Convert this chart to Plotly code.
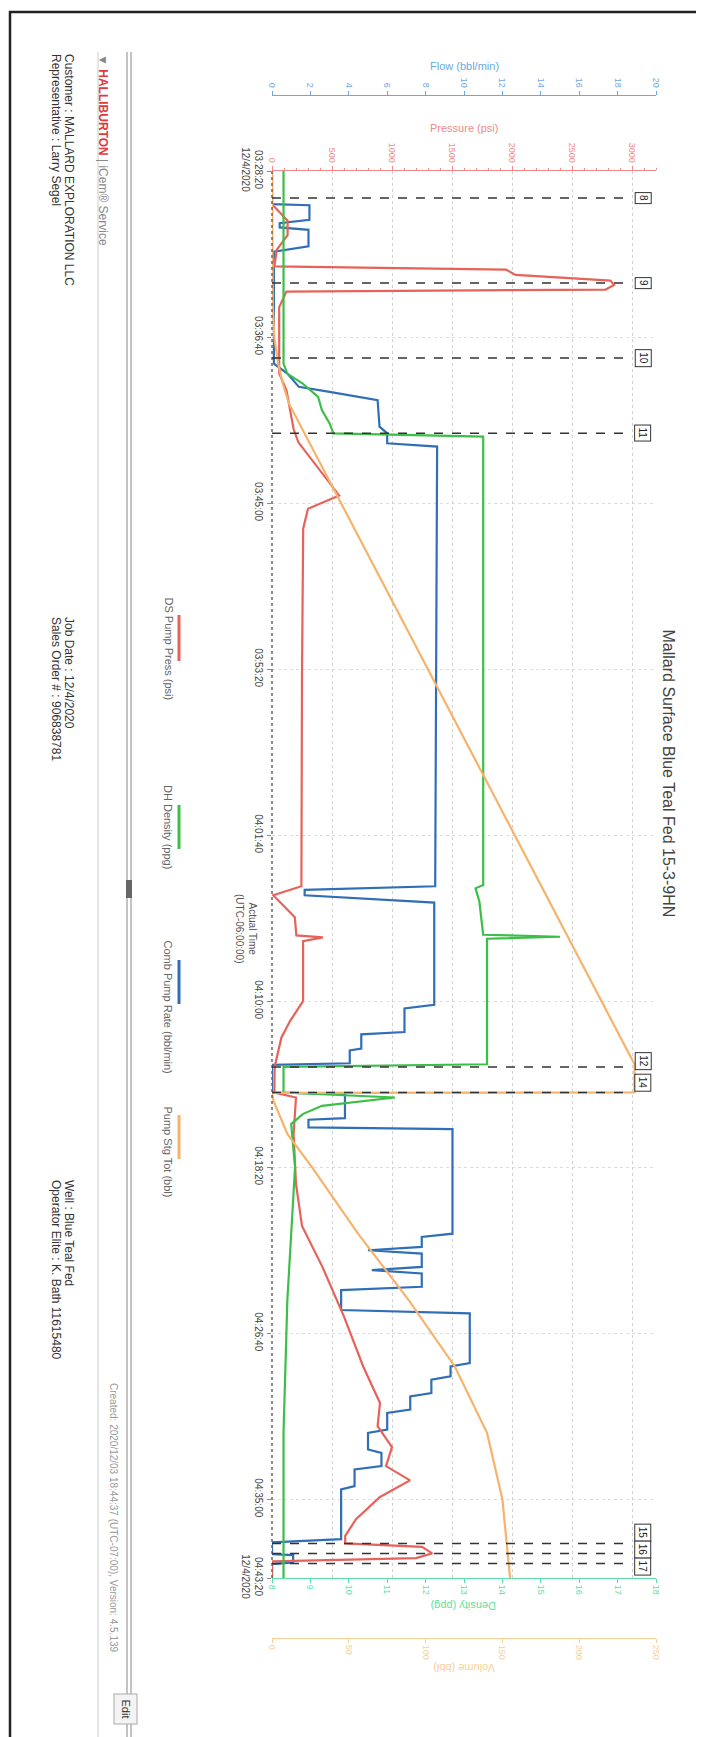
import pandas as pd
import plotly.graph_objects as go

# ---------------- data ----------------
START = "2020-12-04 03:28:20"
END_SEC = 4237

tick_secs = [0, 500, 1000, 1500, 2000, 2500, 3000, 3500, 4000, 4237]
tick_text = ["03:28:20<br>12/4/2020", "03:36:40", "03:45:00", "03:53:20", "04:01:40",
             "04:10:00", "04:18:20", "04:26:40", "04:35:00", "04:43:20<br>12/4/2020"]

# DS Pump Press (psi)
press_s = [0, 100, 150, 193, 237, 287, 297, 313, 330, 343, 357, 363, 410, 610, 660, 777, 817,
           977, 1017, 1077, 1510, 1800, 2154, 2181, 2247, 2302, 2308, 2319, 2500, 2560, 2610,
           2698, 2775, 2790, 2900, 3050, 3177, 3300, 3450, 3600, 3710, 3780, 3843, 3900, 3943,
           3993, 4060, 4110, 4133, 4143, 4163, 4177, 4187, 4237]
press_v = [0, 0, 130, 130, 40, 20, 1950, 2030, 2820, 2850, 2780, 120, 60, 60, 120, 180, 220,
           560, 300, 260, 250, 250, 245, 10, 190, 203, 425, 259, 259, 150, 78,
           22, 20, 200, 180, 200, 250, 420, 600, 760, 900, 880, 1000, 950, 1150,
           900, 700, 610, 610, 1250, 1335, 1200, 0, 0]

# DH Density (ppg)
dens_s = [0, 580, 610, 640, 680, 720, 760, 790, 800, 1500, 2150, 2160, 2200, 2300, 2306, 2312,
          2690, 2698, 2775, 2790, 2800, 2815, 2840, 2870, 3000, 3200, 3400, 3800, 4237]
dens_v = [8.3, 8.3, 8.4, 8.8, 9.2, 9.3, 9.5, 9.6, 13.5, 13.5, 13.5, 13.3, 13.4, 13.5, 15.5, 13.6,
          13.6, 8.3, 8.3, 11.2, 10.5, 9.3, 8.8, 8.5, 8.6, 8.5, 8.4, 8.3, 8.3]

# Comb Pump Rate (bbl/min)
rate_s = [0, 100, 103, 147, 157, 170, 177, 227, 243, 580, 610, 650, 665, 690, 770, 790, 820, 830,
          2154, 2165, 2181, 2203, 2511, 2522, 2593, 2600, 2643, 2648, 2687, 2692, 2775, 2780,
          2852, 2857, 2880, 2885, 3200, 3210, 3240, 3250, 3260, 3300, 3310, 3320, 3360, 3370,
          3430, 3440, 3590, 3600, 3630, 3640, 3680, 3690, 3730, 3740, 3790, 3800, 3850, 3860,
          3900, 3910, 3960, 3970, 4120, 4130, 4165, 4168, 4190, 4195, 4237]
rate_v = [0, 0, 1.95, 1.95, 0.4, 0.4, 1.9, 1.9, 0.1, 0.1, 0.8, 1.4, 3.0, 5.5, 5.6, 6.0, 6.0, 8.6,
          8.5, 1.7, 1.7, 8.45, 8.45, 6.9, 6.9, 4.65, 4.65, 4.05, 4.05, 0, 0, 3.8,
          3.8, 1.9, 1.9, 9.4, 9.4, 7.8, 7.8, 5.0, 7.8, 7.8, 5.2, 7.8, 7.8, 3.6,
          3.6, 10.3, 10.3, 9.3, 9.3, 8.3, 8.3, 7.2, 7.2, 6.0, 6.0, 5.0, 5.0, 5.7,
          5.7, 4.3, 4.3, 3.6, 3.6, 0, 0, 1.1, 1.1, 0, 0]

# Pump Stg Tot (bbl)
vol_s = [0, 400, 500, 580, 640, 700, 2690, 2775, 2776, 2800, 2900, 3000, 3200, 3400, 3600,
         3800, 4000, 4237]
vol_v = [0, 0.5, 1.5, 4, 7, 11, 236, 236, 0, 1, 10, 26, 56, 89, 119, 140, 150, 155]

# job events
event_s = [81, 337, 563, 790, 2698, 2775, 4133, 4163, 4193]
event_lbl = ["8", "9", "10", "11", "12", "14", "15", "16", "17"]
event_shift = [0, 0, 0, 0, 6, 10, 11, 4, -3]

# ---------------- styling ----------------
RED, GREEN, BLUE, ORANGE = "#e6625a", "#3cbf48", "#306fb6", "#f7b26b"
AX_FLOW, AX_PRESS, AX_DENS, AX_VOL = "#6aa9e0", "#f08a8a", "#5de0a5", "#f9cf95"
FONT = "Arial, Liberation Sans, sans-serif"
W, H = 704, 1737
LW = 2.2


def X(px):
    return px / W


def Y(py):
    return 1 - py / H


start = pd.Timestamp(START)


def T(secs):
    return [start + pd.Timedelta(seconds=s) for s in secs]


fig = go.Figure()
fig.add_trace(go.Scatter(x=press_v, y=T(press_s), xaxis="x2", yaxis="y", mode="lines",
                         line=dict(color=RED, width=LW), name="DS Pump Press (psi)"))
fig.add_trace(go.Scatter(x=dens_v, y=T(dens_s), xaxis="x3", yaxis="y", mode="lines",
                         line=dict(color=GREEN, width=LW), name="DH Density (ppg)"))
fig.add_trace(go.Scatter(x=rate_v, y=T(rate_s), xaxis="x", yaxis="y", mode="lines",
                         line=dict(color=BLUE, width=LW), name="Comb Pump Rate (bbl/min)"))
fig.add_trace(go.Scatter(x=vol_v, y=T(vol_s), xaxis="x4", yaxis="y", mode="lines",
                         line=dict(color=ORANGE, width=LW), name="Pump Stg Tot (bbl)"))

xd = [X(264), X(648)]
yd = [Y(1570), Y(163)]


def vax(color, rng, dtick, **kw):
    d = dict(range=rng, dtick=dtick, tickangle=90, ticks="outside", ticklen=4,
             tickcolor=color, linecolor=color, showline=True, linewidth=1,
             tickfont=dict(color=color, size=9, family=FONT), zeroline=False,
             showgrid=False, automargin=False)
    d.update(kw)
    return d


fig.update_layout(
    width=W, height=H, margin=dict(l=0, r=0, t=0, b=0),
    paper_bgcolor="white", plot_bgcolor="white", showlegend=False,
    font=dict(family=FONT, color="#444"),
    xaxis=vax(AX_FLOW, [0, 20], 2, domain=xd, side="top", anchor="free", position=Y(87)),
    xaxis2=vax(AX_PRESS, [0, 3200], 500, overlaying="x", side="top", anchor="y",
               showgrid=True, gridcolor="#d0d0d0", griddash="dot",
               minor=dict(dtick=100, ticks="outside", ticklen=2, tickcolor=AX_PRESS)),
    xaxis3=vax(AX_DENS, [8, 18], 1, overlaying="x", side="bottom", anchor="y"),
    xaxis4=vax(AX_VOL, [0, 250], 50, overlaying="x", side="bottom", anchor="free",
               position=Y(1630)),
    yaxis=dict(domain=yd, type="date", range=[T([END_SEC])[0], T([0])[0]],
               tickvals=T(tick_secs), ticktext=tick_text, tickangle=90, ticks="outside",
               ticklen=4, tickcolor="#888", showgrid=True, gridcolor="#dddddd",
               griddash="dot", zeroline=False, showline=False, automargin=False,
               tickfont=dict(size=10, color="#444", family=FONT)),
)

shapes = []
ann = []

# time-axis line (dotted)
shapes.append(dict(type="line", xref="paper", yref="paper", x0=X(264), x1=X(264),
                   y0=yd[0], y1=yd[1], line=dict(color="#666", width=1.5, dash="dot")))

# event lines + boxes
for s, lbl, sh in zip(event_s, event_lbl, event_shift):
    t = T([s])[0]
    shapes.append(dict(type="line", xref="x2", yref="y", x0=0, x1=2980, y0=t, y1=t,
                       line=dict(color="#333", width=1.5, dash="dash")))
    ann.append(dict(xref="x2", yref="y", x=3090, y=t, text=lbl, textangle=90,
                    showarrow=False, bordercolor="#333", borderwidth=1, borderpad=2,
                    bgcolor="white", font=dict(size=10, color="#222"), yshift=sh))

# axis titles
ann += [
    dict(xref="paper", yref="paper", x=X(456), y=Y(50), text="Flow (bbl/min)", showarrow=False,
         font=dict(size=11, color=AX_FLOW)),
    dict(xref="paper", yref="paper", x=X(456), y=Y(112), text="Pressure (psi)", showarrow=False,
         font=dict(size=11, color=AX_PRESS)),
    dict(xref="paper", yref="paper", x=X(456), y=Y(1606), text="Density (ppg)", showarrow=False,
         textangle=180, font=dict(size=11, color=AX_DENS)),
    dict(xref="paper", yref="paper", x=X(456), y=Y(1668), text="Volume (bbl)", showarrow=False,
         textangle=180, font=dict(size=11, color=AX_VOL)),
    dict(xref="paper", yref="paper", x=X(224), y=Y(920), text="Actual Time<br>(UTC-06:00:00)",
         showarrow=False, textangle=90, font=dict(size=10, color="#555")),
    dict(xref="paper", yref="paper", x=X(671), y=Y(765),
         text="Mallard Surface Blue Teal Fed 15-3-9HN", showarrow=False, textangle=90,
         font=dict(size=16, color="#444")),
]

# legend (drawn rotated)
legend_items = [("DS Pump Press (psi)", RED, 587, 607, 653),
                ("DH Density (ppg)", GREEN, 775, 797, 841),
                ("Comb Pump Rate (bbl/min)", BLUE, 930, 952, 996),
                ("Pump Stg Tot (bbl)", ORANGE, 1096, 1107, 1151)]
for name, col, ty, s0, s1 in legend_items:
    shapes.append(dict(type="line", xref="paper", yref="paper", x0=X(171), x1=X(171),
                       y0=Y(s0), y1=Y(s1), line=dict(color=col, width=3)))
    ann.append(dict(xref="paper", yref="paper", x=X(160), y=Y(ty), text=name, textangle=90,
                    showarrow=False, xanchor="center", yanchor="top",
                    font=dict(size=11, color="#666")))

# header block
hdr = [
    (95, 44, '▼ <span style="color:#e0393e"><b>HALLIBURTON</b></span> | iCem® Service', 12, "#888"),
    (61, 44, "Customer : MALLARD EXPLORATION LLC", 12, "#333"),
    (48, 44, "Representative : Larry Segel", 12, "#333"),
    (61, 607, "Job Date : 12/4/2020", 12, "#333"),
    (48, 607, "Sales Order # : 906838781", 12, "#333"),
    (61, 1170, "Well : Blue Teal Fed", 12, "#333"),
    (48, 1170, "Operator Elite : K. Bath 11615480", 12, "#333"),
    (106, 1373, "Created: 2020/12/03 18:44:37 (UTC-07:00), Version: 4.5.139", 10, "#999"),
]
for x, y, txt, sz, col in hdr:
    ann.append(dict(xref="paper", yref="paper", x=X(x), y=Y(y), text=txt, textangle=90,
                    showarrow=False, xanchor="center", yanchor="top",
                    font=dict(size=sz, color=col)))
ann.append(dict(xref="paper", yref="paper", x=X(106), y=Y(1716), text="Edit", textangle=90,
                showarrow=False, bordercolor="#aaa", borderwidth=1, borderpad=5,
                bgcolor="#f4f4f4", font=dict(size=11, color="#333")))

# page frame and separators
shapes += [
    dict(type="rect", xref="paper", yref="paper", x0=X(2), x1=X(700), y0=Y(1733), y1=Y(4),
         line=dict(color="#222", width=2.5)),
    dict(type="line", xref="paper", yref="paper", x0=X(90), x1=X(90), y0=Y(1733), y1=Y(44),
         line=dict(color="#cccccc", width=1)),
    dict(type="line", xref="paper", yref="paper", x0=X(119), x1=X(119), y0=Y(1733), y1=Y(44),
         line=dict(color="#888", width=1)),
    dict(type="line", xref="paper", yref="paper", x0=X(123), x1=X(123), y0=Y(1733), y1=Y(44),
         line=dict(color="#888", width=1)),
    dict(type="rect", xref="paper", yref="paper", x0=X(118), x1=X(124), y0=Y(890), y1=Y(872),
         fillcolor="#666", line=dict(width=0)),
]

fig.update_layout(shapes=shapes, annotations=ann)
fig.write_html("out.html")
